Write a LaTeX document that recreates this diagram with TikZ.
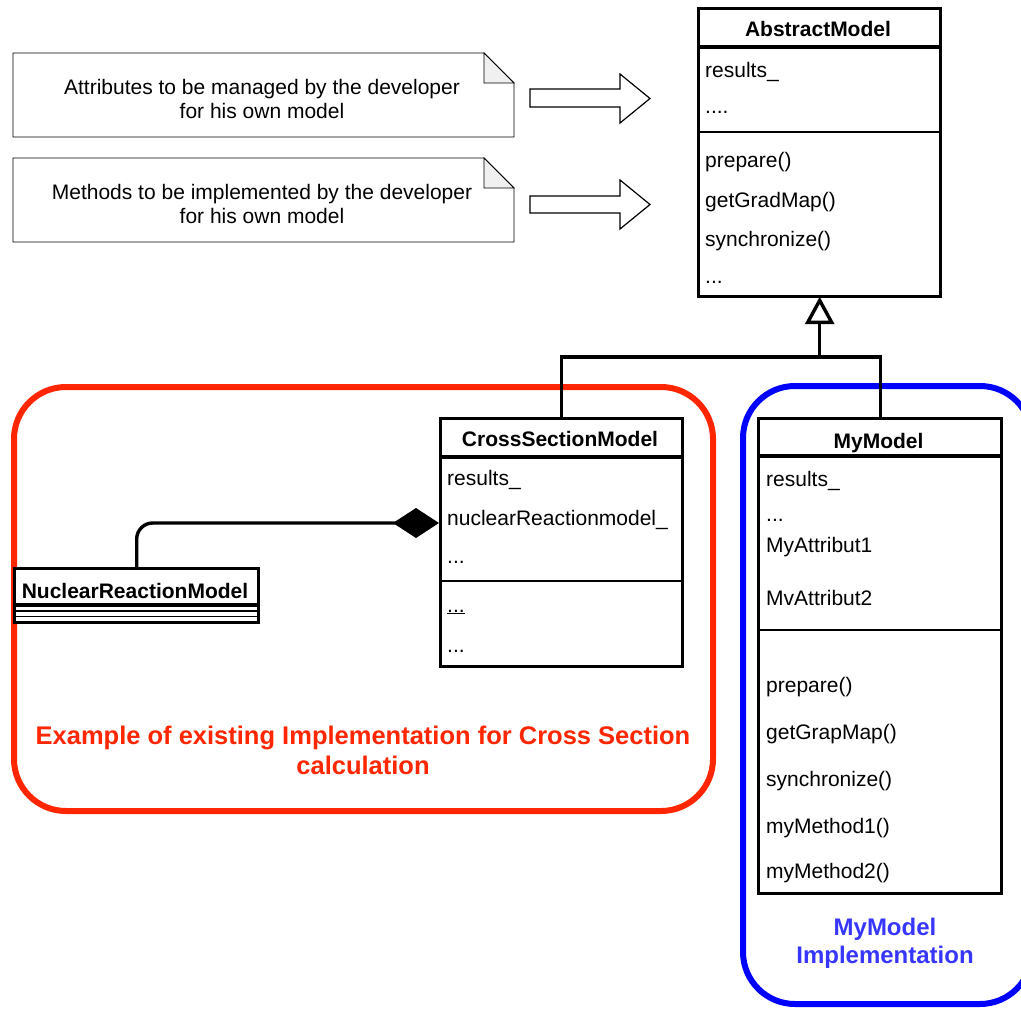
\documentclass[tikz,border=0pt]{standalone}
\usepackage{fontspec}
\setmainfont{Liberation Sans}
\usetikzlibrary{arrows.meta}
\definecolor{grpred}{HTML}{FF2600}
\definecolor{grpblue}{HTML}{0000FF}
\definecolor{txtblue}{HTML}{3636FF}
\begin{document}
\begin{tikzpicture}[x=1pt,y=-1pt,
  classbox/.style={draw, line width=3.4pt, anchor=north west, inner sep=0pt, fill=white},
  classtitle/.style={font=\fontsize{21}{24}\selectfont\bfseries, anchor=base, inner sep=0pt},
  item/.style={font=\fontsize{21}{24}\selectfont, anchor=base west, inner sep=0pt},
  thicksep/.style={line width=3.4pt},
  thinsep/.style={line width=1.8pt},
  conn/.style={line width=3.4pt},
  note/.style={line width=0.8pt},
  notetext/.style={font=\fontsize{21}{23.5}\selectfont, align=center},
  grouplabel/.style={font=\fontsize{25.5}{30}\selectfont\bfseries, align=center},
  blockarrow/.style={line width=1.2pt, line join=miter},
  groupbox/.style={line width=6pt, rounded corners=52pt},
  inhhead/.style={line width=3.4pt, fill=white, line join=miter}
]
\useasboundingbox (0,0) rectangle (1021,1010);

% group boxes
\draw[groupbox, grpred] (14,387) rectangle (713,811);
\draw[groupbox, grpblue] (743,386) rectangle (1032,1004);

% notes
\draw[note] (13,53) -- (484,53) -- (514,83) -- (514,137) -- (13,137) -- cycle;
\draw[note, fill=gray!12] (484,53) -- (484,83) -- (514,83) -- cycle;
\node[notetext] (note1) at (262,99) {Attributes to be managed by the developer\\for his own model};
\draw[note] (13,158) -- (484,158) -- (514,188) -- (514,242) -- (13,242) -- cycle;
\draw[note, fill=gray!12] (484,158) -- (484,188) -- (514,188) -- cycle;
\node[notetext] (note2) at (262,204) {Methods to be implemented by the developer\\for his own model};

% block arrows
\draw[blockarrow] (530,89) -- (620,89) -- (620,74) -- (650,98.5) -- (620,123) -- (620,107) -- (530,107) -- cycle;
\draw[blockarrow] (530,196) -- (620,196) -- (620,180) -- (650,204.5) -- (620,229) -- (620,213) -- (530,213) -- cycle;

% AbstractModel
\node[classbox, minimum width=242pt, minimum height=288pt] (abs) at (697,7) {};
\draw[thicksep] (697,47) -- (939,47);
\draw[thinsep] (697,132) -- (939,132);
\node[classtitle] (absT) at (818,36) {AbstractModel};
\node[item] (abs1) at (705,77) {results\_};
\node[item] (abs2) at (705,113) {....};
\node[item] (abs3) at (705,167) {prepare()};
\node[item] (abs4) at (705,207) {getGradMap()};
\node[item] (abs5) at (705,246) {synchronize()};
\node[item] (abs6) at (705,283) {...};

% CrossSectionModel
\node[classbox, minimum width=242pt, minimum height=248pt] (csm) at (439,417) {};
\draw[thicksep] (439,457) -- (681,457);
\draw[thinsep] (439,581) -- (681,581);
\node[classtitle] (csmT) at (560,446) {CrossSectionModel};
\node[item] (csm1) at (447,485) {results\_};
\node[item] (csm2) at (447,525) {nuclearReactionmodel\_};
\node[item] (csm3) at (447,563) {...};
\node[item] (csm4) at (447,612) {\underline{...}};
\node[item] (csm5) at (447,652) {...};

% NuclearReactionModel
\node[classbox, minimum width=244pt, minimum height=54pt] (nrm) at (13,567) {};
\draw[thicksep] (13,605) -- (257,605);
\draw[thinsep] (13,611) -- (257,611);
\draw[thinsep] (13,616.5) -- (257,616.5);
\node[classtitle] (nrmT) at (135,598) {NuclearReactionModel};

% MyModel
\node[classbox, minimum width=243pt, minimum height=475pt] (mym) at (757,417) {};
\draw[thicksep] (757,456) -- (1000,456);
\draw[thinsep] (757,630) -- (1000,630);
\node[classtitle] (mymT) at (878.5,448) {MyModel};
\node[item] (mym1) at (766,486) {results\_};
\node[item] (mym2) at (766,521) {...};
\node[item] (mym3) at (766,552) {MyAttribut1};
\node[item] (mym4) at (766,605) {MvAttribut2};
\node[item] (mym5) at (766,692) {prepare()};
\node[item] (mym6) at (766,739) {getGrapMap()};
\node[item] (mym7) at (766,786) {synchronize()};
\node[item] (mym8) at (766,833) {myMethod1()};
\node[item] (mym9) at (766,878) {myMethod2()};

% inheritance
\coordinate (junction) at (abs.south |- 0,357);
\draw[conn] (csm.north) |- (junction) -| (mym.north);
\draw[conn, shorten >=24pt] (junction) -- (abs.south);
\draw[inhhead] (abs.south) ++(0,2) -- ++(12,22) -- ++(-24,0) -- cycle;

% composition
\coordinate (cdiam) at (439,523);
\draw[conn, rounded corners=16pt, -{Diamond[length=46pt, width=30pt]}] (nrm.north) |- (cdiam);

% group labels
\node[grouplabel, text=grpred] (redlbl) at (363,750) {Example of existing Implementation for Cross Section\\calculation};
\node[grouplabel, font=\fontsize{24}{28}\selectfont\bfseries, text=txtblue] (bluelbl) at (885,943) {MyModel\\Implementation};
\end{tikzpicture}
\end{document}
